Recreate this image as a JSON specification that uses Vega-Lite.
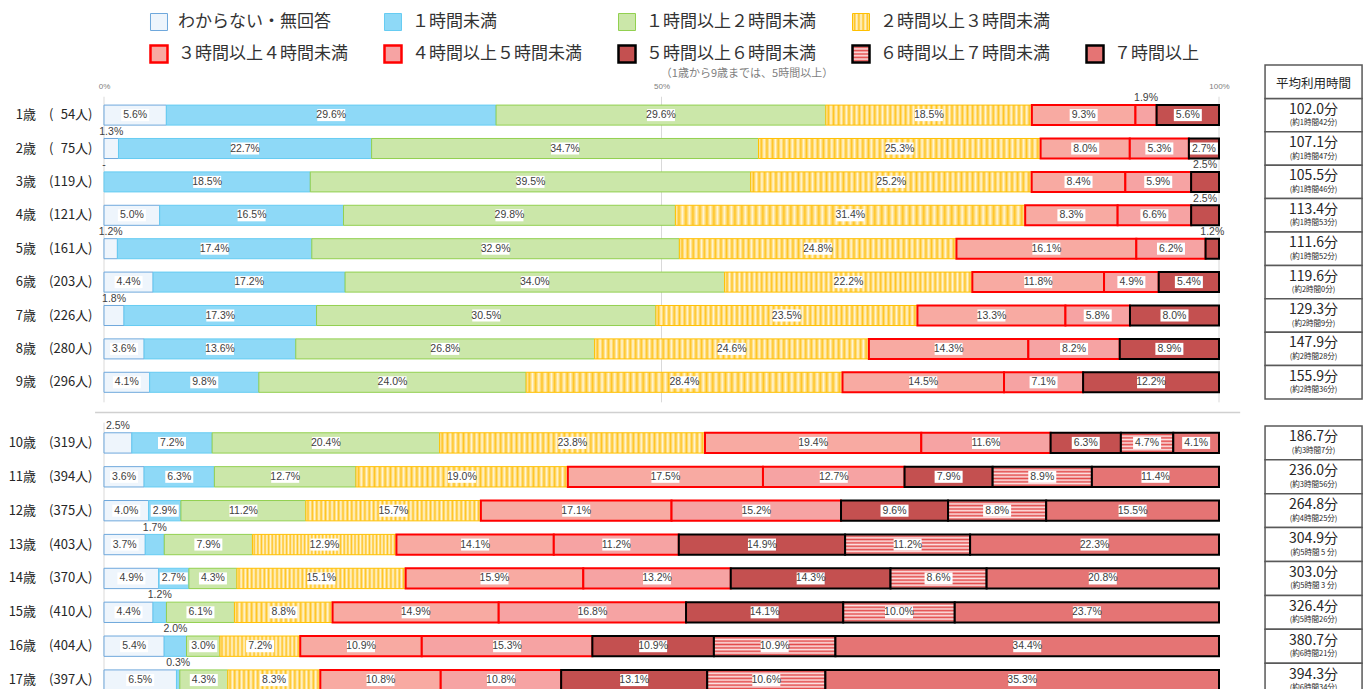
{
  "$schema": "https://vega.github.io/schema/vega-lite/v6.json",
  "usermeta": {"embedOptions": {"actions": false}},
  "background": "white",
  "padding": {"left": 8, "top": 11, "right": 0, "bottom": 0},
  "bounds": "flush",
  "spacing": 11,
  "config": {"view": {"stroke": null}, "font": "Noto Sans CJK JP", "axis": {"labelFont": "Noto Sans CJK JP"}},
  "datasets": {
    "rows": [
      {"a": 1, "n": 54, "c0": 5.6, "c1": 29.6, "c2": 29.6, "c3": 18.5, "c4": 9.3, "c5": 1.9, "c6": 5.6, "avg": 102.0, "hm": "約1時間42分"},
      {"a": 2, "n": 75, "c0": 1.3, "c1": 22.7, "c2": 34.7, "c3": 25.3, "c4": 8.0, "c5": 5.3, "c6": 2.7, "avg": 107.1, "hm": "約1時間47分"},
      {"a": 3, "n": 119, "c0": 0, "c1": 18.5, "c2": 39.5, "c3": 25.2, "c4": 8.4, "c5": 5.9, "c6": 2.5, "avg": 105.5, "hm": "約1時間46分"},
      {"a": 4, "n": 121, "c0": 5.0, "c1": 16.5, "c2": 29.8, "c3": 31.4, "c4": 8.3, "c5": 6.6, "c6": 2.5, "avg": 113.4, "hm": "約1時間53分"},
      {"a": 5, "n": 161, "c0": 1.2, "c1": 17.4, "c2": 32.9, "c3": 24.8, "c4": 16.1, "c5": 6.2, "c6": 1.2, "avg": 111.6, "hm": "約1時間52分"},
      {"a": 6, "n": 203, "c0": 4.4, "c1": 17.2, "c2": 34.0, "c3": 22.2, "c4": 11.8, "c5": 4.9, "c6": 5.4, "avg": 119.6, "hm": "約2時間0分"},
      {"a": 7, "n": 226, "c0": 1.8, "c1": 17.3, "c2": 30.5, "c3": 23.5, "c4": 13.3, "c5": 5.8, "c6": 8.0, "avg": 129.3, "hm": "約2時間9分"},
      {"a": 8, "n": 280, "c0": 3.6, "c1": 13.6, "c2": 26.8, "c3": 24.6, "c4": 14.3, "c5": 8.2, "c6": 8.9, "avg": 147.9, "hm": "約2時間28分"},
      {"a": 9, "n": 296, "c0": 4.1, "c1": 9.8, "c2": 24.0, "c3": 28.4, "c4": 14.5, "c5": 7.1, "c6": 12.2, "avg": 155.9, "hm": "約2時間36分"},
      {"a": 10, "n": 319, "c0": 2.5, "c1": 7.2, "c2": 20.4, "c3": 23.8, "c4": 19.4, "c5": 11.6, "c6": 6.3, "c7": 4.7, "c8": 4.1, "avg": 186.7, "hm": "約3時間7分"},
      {"a": 11, "n": 394, "c0": 3.6, "c1": 6.3, "c2": 12.7, "c3": 19.0, "c4": 17.5, "c5": 12.7, "c6": 7.9, "c7": 8.9, "c8": 11.4, "avg": 236.0, "hm": "約3時間56分"},
      {"a": 12, "n": 375, "c0": 4.0, "c1": 2.9, "c2": 11.2, "c3": 15.7, "c4": 17.1, "c5": 15.2, "c6": 9.6, "c7": 8.8, "c8": 15.5, "avg": 264.8, "hm": "約4時間25分"},
      {"a": 13, "n": 403, "c0": 3.7, "c1": 1.7, "c2": 7.9, "c3": 12.9, "c4": 14.1, "c5": 11.2, "c6": 14.9, "c7": 11.2, "c8": 22.3, "avg": 304.9, "hm": "約5時間 5 分"},
      {"a": 14, "n": 370, "c0": 4.9, "c1": 2.7, "c2": 4.3, "c3": 15.1, "c4": 15.9, "c5": 13.2, "c6": 14.3, "c7": 8.6, "c8": 20.8, "avg": 303.0, "hm": "約5時間 3 分"},
      {"a": 15, "n": 410, "c0": 4.4, "c1": 1.2, "c2": 6.1, "c3": 8.8, "c4": 14.9, "c5": 16.8, "c6": 14.1, "c7": 10.0, "c8": 23.7, "avg": 326.4, "hm": "約5時間26分"},
      {"a": 16, "n": 404, "c0": 5.4, "c1": 2.0, "c2": 3.0, "c3": 7.2, "c4": 10.9, "c5": 15.3, "c6": 10.9, "c7": 10.9, "c8": 34.4, "avg": 380.7, "hm": "約6時間21分"},
      {"a": 17, "n": 397, "c0": 6.5, "c1": 0.3, "c2": 4.3, "c3": 8.3, "c4": 10.8, "c5": 10.8, "c6": 13.1, "c7": 10.6, "c8": 35.3, "avg": 394.3, "hm": "約6時間34分"}
    ],
    "cats": [
      {"k": 0, "name": "わからない・無回答"},
      {"k": 1, "name": "１時間未満"},
      {"k": 2, "name": "１時間以上２時間未満"},
      {"k": 3, "name": "２時間以上３時間未満"},
      {"k": 4, "name": "３時間以上４時間未満"},
      {"k": 5, "name": "４時間以上５時間未満"},
      {"k": 6, "name": "５時間以上６時間未満"},
      {"k": 7, "name": "６時間以上７時間未満"},
      {"k": 8, "name": "７時間以上"}
    ]
  },
  "vconcat": [
    {
      "width": 1046,
      "height": 32,
      "data": {"name": "cats"},
      "transform": [
        {"calculate": "datum.k < 4 ? 1 : 2", "as": "lr"},
        {"calculate": "datum.k < 4 ? datum.k + 1 : datum.k - 3", "as": "lc"}
      ],
      "encoding": {
        "x": {"field": "lc", "type": "ordinal", "axis": null, "scale": {"type": "point", "padding": 0.235, "domain": [1, 2, 3, 4, 5]}},
        "y": {"field": "lr", "type": "ordinal", "axis": null, "scale": {"type": "point", "padding": 0, "domain": [1, 2]}}
      },
      "layer": [
        {
          "mark": {"type": "point", "shape": "square", "size": 289, "filled": true, "opacity": 1},
          "encoding": {
            "fill": {
              "condition": [
                {"test": "datum.k == 3", "value": {"gradient": "linear", "x1": 0, "y1": 0, "x2": 1, "y2": 0, "stops": [{"offset": 0, "color": "#fff6d8"}, {"offset": 0.125, "color": "#ffc423"}, {"offset": 0.25, "color": "#fff6d8"}, {"offset": 0.375, "color": "#ffc423"}, {"offset": 0.5, "color": "#fff6d8"}, {"offset": 0.625, "color": "#ffc423"}, {"offset": 0.75, "color": "#fff6d8"}, {"offset": 0.875, "color": "#ffc423"}, {"offset": 1, "color": "#fff6d8"}]}},
                {"test": "datum.k == 7", "value": {"gradient": "linear", "x1": 0, "y1": 0, "x2": 0, "y2": 1, "stops": [{"offset": 0, "color": "#fde4e4"}, {"offset": 0.1, "color": "#e34c4c"}, {"offset": 0.2, "color": "#fde4e4"}, {"offset": 0.3, "color": "#e34c4c"}, {"offset": 0.4, "color": "#fde4e4"}, {"offset": 0.5, "color": "#e34c4c"}, {"offset": 0.6, "color": "#fde4e4"}, {"offset": 0.7, "color": "#e34c4c"}, {"offset": 0.8, "color": "#fde4e4"}, {"offset": 0.9, "color": "#e34c4c"}, {"offset": 1, "color": "#fde4e4"}]}}
              ],
              "field": "k", "type": "nominal", "legend": null, "scale": {"domain": [0, 1, 2, 3, 4, 5, 6, 7, 8], "range": ["#eef5fc", "#8ed9f7", "#cbe7a9", "#ffe38c", "#f8aaa2", "#f6a3a3", "#c45050", "#eb8888", "#e57474"]}},
            "stroke": {"field": "k", "type": "nominal", "legend": null, "scale": {"domain": [0, 1, 2, 3, 4, 5, 6, 7, 8], "range": ["#6fa8dc", "#66ccf2", "#92d050", "#ffc000", "#ff0000", "#ff0000", "#000000", "#000000", "#000000"]}},
            "strokeWidth": {"condition": {"test": "datum.k >= 4", "value": 2.5}, "value": 1}
          }
        },
        {
          "mark": {"type": "text", "align": "left", "baseline": "middle", "dx": 19, "fontSize": 17, "color": "#333333", "font": "Noto Sans CJK JP"},
          "encoding": {"text": {"field": "name"}}
        }
      ]
    },
    {
      "width": 1258,
      "height": 334,
      "data": {"name": "rows"},
      "transform": [
        {"filter": "datum.a <= 9"},
        {"calculate": "datum.a + '|' + datum.n", "as": "yk"}
      ],
      "encoding": {
        "y": {
          "field": "yk", "type": "nominal", "title": null,
          "scale": {"domain": ["H", "1|54", "2|75", "3|119", "4|121", "5|161", "6|203", "7|226", "8|280", "9|296"], "paddingInner": 0, "paddingOuter": 0},
          "axis": {"ticks": false, "domain": false, "grid": false, "title": null, "labelPadding": 12, "labelFontSize": 13, "labelColor": "#262626", "labelFont": "Noto Sans CJK JP",
            "labelExpr": "datum.value == 'H' ? '' : (length(split(datum.value,'|')[0]) < 2 ? '\u2007' : '') + split(datum.value,'|')[0] + '歳\u3000(' + (length(split(datum.value,'|')[1]) < 3 ? '\u2007' : '') + split(datum.value,'|')[1] + '人)'"}
        }
      },
      "layer": [
        {
          "data": {"values": [{"p": 0}, {"p": 0.5}, {"p": 1}]},
          "mark": {"type": "rule", "color": "#d9d9d9", "strokeWidth": 1},
          "encoding": {
            "x": {"field": "p", "type": "quantitative"},
            "y": {"datum": "1|54", "type": "nominal", "bandPosition": -0.05},
            "y2": {"datum": "9|296", "bandPosition": 1.1}
          }
        },
        {
          "transform": [
            {"fold": ["c0", "c1", "c2", "c3", "c4", "c5", "c6", "c7", "c8"], "as": ["cat", "v"]},
            {"filter": "isValid(datum.v)"},
            {"calculate": "toNumber(substring(datum.cat, 1))", "as": "k"},
            {"stack": "v", "groupby": ["yk"], "sort": [{"field": "k", "order": "ascending"}], "offset": "normalize", "as": ["x0", "x1"]},
            {"calculate": "(datum.x0 + datum.x1) / 2", "as": "mid"},
            {"calculate": "datum.v == 0 ? '-' : format(datum.v, '.1f') + '%'", "as": "lbl"}
          ],
          "layer": [
            {
              "transform": [{"filter": "datum.v > 0"}],
              "mark": {"type": "bar", "height": {"band": 0.6}},
              "encoding": {
                "x": {"field": "x0", "type": "quantitative", "scale": {"domain": [0, 1.12825], "nice": false, "zero": false},
                  "axis": {"orient": "top", "values": [0, 0.5, 1], "format": ".0%", "offset": -27, "labelFontSize": 8, "labelColor": "#808080", "labelFont": "Liberation Sans", "labelFlush": false, "domain": false, "ticks": false, "grid": false, "title": null}},
                "x2": {"field": "x1"},
                "fill": {
                  "condition": [
                    {"test": "datum.k == 7", "value": {"gradient": "linear", "x1": 0, "y1": 0, "x2": 0, "y2": 1, "stops": [{"offset": 0, "color": "#fde4e4"}, {"offset": 0.0833, "color": "#e34c4c"}, {"offset": 0.1667, "color": "#fde4e4"}, {"offset": 0.25, "color": "#e34c4c"}, {"offset": 0.3333, "color": "#fde4e4"}, {"offset": 0.4167, "color": "#e34c4c"}, {"offset": 0.5, "color": "#fde4e4"}, {"offset": 0.5833, "color": "#e34c4c"}, {"offset": 0.6667, "color": "#fde4e4"}, {"offset": 0.75, "color": "#e34c4c"}, {"offset": 0.8333, "color": "#fde4e4"}, {"offset": 0.9167, "color": "#e34c4c"}, {"offset": 1, "color": "#fde4e4"}]}},
                    {"test": "datum.k == 3 && datum.v < 12", "value": {"gradient": "linear", "x1": 0, "y1": 0, "x2": 1, "y2": 0, "stops": [{"offset": 0, "color": "#fff6d8"}, {"offset": 0.025, "color": "#ffc423"}, {"offset": 0.05, "color": "#fff6d8"}, {"offset": 0.075, "color": "#ffc423"}, {"offset": 0.1, "color": "#fff6d8"}, {"offset": 0.125, "color": "#ffc423"}, {"offset": 0.15, "color": "#fff6d8"}, {"offset": 0.175, "color": "#ffc423"}, {"offset": 0.2, "color": "#fff6d8"}, {"offset": 0.225, "color": "#ffc423"}, {"offset": 0.25, "color": "#fff6d8"}, {"offset": 0.275, "color": "#ffc423"}, {"offset": 0.3, "color": "#fff6d8"}, {"offset": 0.325, "color": "#ffc423"}, {"offset": 0.35, "color": "#fff6d8"}, {"offset": 0.375, "color": "#ffc423"}, {"offset": 0.4, "color": "#fff6d8"}, {"offset": 0.425, "color": "#ffc423"}, {"offset": 0.45, "color": "#fff6d8"}, {"offset": 0.475, "color": "#ffc423"}, {"offset": 0.5, "color": "#fff6d8"}, {"offset": 0.525, "color": "#ffc423"}, {"offset": 0.55, "color": "#fff6d8"}, {"offset": 0.575, "color": "#ffc423"}, {"offset": 0.6, "color": "#fff6d8"}, {"offset": 0.625, "color": "#ffc423"}, {"offset": 0.65, "color": "#fff6d8"}, {"offset": 0.675, "color": "#ffc423"}, {"offset": 0.7, "color": "#fff6d8"}, {"offset": 0.725, "color": "#ffc423"}, {"offset": 0.75, "color": "#fff6d8"}, {"offset": 0.775, "color": "#ffc423"}, {"offset": 0.8, "color": "#fff6d8"}, {"offset": 0.825, "color": "#ffc423"}, {"offset": 0.85, "color": "#fff6d8"}, {"offset": 0.875, "color": "#ffc423"}, {"offset": 0.9, "color": "#fff6d8"}, {"offset": 0.925, "color": "#ffc423"}, {"offset": 0.95, "color": "#fff6d8"}, {"offset": 0.975, "color": "#ffc423"}, {"offset": 1, "color": "#fff6d8"}]}},
                    {"test": "datum.k == 3 && datum.v < 20", "value": {"gradient": "linear", "x1": 0, "y1": 0, "x2": 1, "y2": 0, "stops": [{"offset": 0, "color": "#fff6d8"}, {"offset": 0.0125, "color": "#ffc423"}, {"offset": 0.025, "color": "#fff6d8"}, {"offset": 0.0375, "color": "#ffc423"}, {"offset": 0.05, "color": "#fff6d8"}, {"offset": 0.0625, "color": "#ffc423"}, {"offset": 0.075, "color": "#fff6d8"}, {"offset": 0.0875, "color": "#ffc423"}, {"offset": 0.1, "color": "#fff6d8"}, {"offset": 0.1125, "color": "#ffc423"}, {"offset": 0.125, "color": "#fff6d8"}, {"offset": 0.1375, "color": "#ffc423"}, {"offset": 0.15, "color": "#fff6d8"}, {"offset": 0.1625, "color": "#ffc423"}, {"offset": 0.175, "color": "#fff6d8"}, {"offset": 0.1875, "color": "#ffc423"}, {"offset": 0.2, "color": "#fff6d8"}, {"offset": 0.2125, "color": "#ffc423"}, {"offset": 0.225, "color": "#fff6d8"}, {"offset": 0.2375, "color": "#ffc423"}, {"offset": 0.25, "color": "#fff6d8"}, {"offset": 0.2625, "color": "#ffc423"}, {"offset": 0.275, "color": "#fff6d8"}, {"offset": 0.2875, "color": "#ffc423"}, {"offset": 0.3, "color": "#fff6d8"}, {"offset": 0.3125, "color": "#ffc423"}, {"offset": 0.325, "color": "#fff6d8"}, {"offset": 0.3375, "color": "#ffc423"}, {"offset": 0.35, "color": "#fff6d8"}, {"offset": 0.3625, "color": "#ffc423"}, {"offset": 0.375, "color": "#fff6d8"}, {"offset": 0.3875, "color": "#ffc423"}, {"offset": 0.4, "color": "#fff6d8"}, {"offset": 0.4125, "color": "#ffc423"}, {"offset": 0.425, "color": "#fff6d8"}, {"offset": 0.4375, "color": "#ffc423"}, {"offset": 0.45, "color": "#fff6d8"}, {"offset": 0.4625, "color": "#ffc423"}, {"offset": 0.475, "color": "#fff6d8"}, {"offset": 0.4875, "color": "#ffc423"}, {"offset": 0.5, "color": "#fff6d8"}, {"offset": 0.5125, "color": "#ffc423"}, {"offset": 0.525, "color": "#fff6d8"}, {"offset": 0.5375, "color": "#ffc423"}, {"offset": 0.55, "color": "#fff6d8"}, {"offset": 0.5625, "color": "#ffc423"}, {"offset": 0.575, "color": "#fff6d8"}, {"offset": 0.5875, "color": "#ffc423"}, {"offset": 0.6, "color": "#fff6d8"}, {"offset": 0.6125, "color": "#ffc423"}, {"offset": 0.625, "color": "#fff6d8"}, {"offset": 0.6375, "color": "#ffc423"}, {"offset": 0.65, "color": "#fff6d8"}, {"offset": 0.6625, "color": "#ffc423"}, {"offset": 0.675, "color": "#fff6d8"}, {"offset": 0.6875, "color": "#ffc423"}, {"offset": 0.7, "color": "#fff6d8"}, {"offset": 0.7125, "color": "#ffc423"}, {"offset": 0.725, "color": "#fff6d8"}, {"offset": 0.7375, "color": "#ffc423"}, {"offset": 0.75, "color": "#fff6d8"}, {"offset": 0.7625, "color": "#ffc423"}, {"offset": 0.775, "color": "#fff6d8"}, {"offset": 0.7875, "color": "#ffc423"}, {"offset": 0.8, "color": "#fff6d8"}, {"offset": 0.8125, "color": "#ffc423"}, {"offset": 0.825, "color": "#fff6d8"}, {"offset": 0.8375, "color": "#ffc423"}, {"offset": 0.85, "color": "#fff6d8"}, {"offset": 0.8625, "color": "#ffc423"}, {"offset": 0.875, "color": "#fff6d8"}, {"offset": 0.8875, "color": "#ffc423"}, {"offset": 0.9, "color": "#fff6d8"}, {"offset": 0.9125, "color": "#ffc423"}, {"offset": 0.925, "color": "#fff6d8"}, {"offset": 0.9375, "color": "#ffc423"}, {"offset": 0.95, "color": "#fff6d8"}, {"offset": 0.9625, "color": "#ffc423"}, {"offset": 0.975, "color": "#fff6d8"}, {"offset": 0.9875, "color": "#ffc423"}, {"offset": 1, "color": "#fff6d8"}]}},
                    {"test": "datum.k == 3", "value": {"gradient": "linear", "x1": 0, "y1": 0, "x2": 1, "y2": 0, "stops": [{"offset": 0, "color": "#fff6d8"}, {"offset": 0.01, "color": "#ffc423"}, {"offset": 0.02, "color": "#fff6d8"}, {"offset": 0.03, "color": "#ffc423"}, {"offset": 0.04, "color": "#fff6d8"}, {"offset": 0.05, "color": "#ffc423"}, {"offset": 0.06, "color": "#fff6d8"}, {"offset": 0.07, "color": "#ffc423"}, {"offset": 0.08, "color": "#fff6d8"}, {"offset": 0.09, "color": "#ffc423"}, {"offset": 0.1, "color": "#fff6d8"}, {"offset": 0.11, "color": "#ffc423"}, {"offset": 0.12, "color": "#fff6d8"}, {"offset": 0.13, "color": "#ffc423"}, {"offset": 0.14, "color": "#fff6d8"}, {"offset": 0.15, "color": "#ffc423"}, {"offset": 0.16, "color": "#fff6d8"}, {"offset": 0.17, "color": "#ffc423"}, {"offset": 0.18, "color": "#fff6d8"}, {"offset": 0.19, "color": "#ffc423"}, {"offset": 0.2, "color": "#fff6d8"}, {"offset": 0.21, "color": "#ffc423"}, {"offset": 0.22, "color": "#fff6d8"}, {"offset": 0.23, "color": "#ffc423"}, {"offset": 0.24, "color": "#fff6d8"}, {"offset": 0.25, "color": "#ffc423"}, {"offset": 0.26, "color": "#fff6d8"}, {"offset": 0.27, "color": "#ffc423"}, {"offset": 0.28, "color": "#fff6d8"}, {"offset": 0.29, "color": "#ffc423"}, {"offset": 0.3, "color": "#fff6d8"}, {"offset": 0.31, "color": "#ffc423"}, {"offset": 0.32, "color": "#fff6d8"}, {"offset": 0.33, "color": "#ffc423"}, {"offset": 0.34, "color": "#fff6d8"}, {"offset": 0.35, "color": "#ffc423"}, {"offset": 0.36, "color": "#fff6d8"}, {"offset": 0.37, "color": "#ffc423"}, {"offset": 0.38, "color": "#fff6d8"}, {"offset": 0.39, "color": "#ffc423"}, {"offset": 0.4, "color": "#fff6d8"}, {"offset": 0.41, "color": "#ffc423"}, {"offset": 0.42, "color": "#fff6d8"}, {"offset": 0.43, "color": "#ffc423"}, {"offset": 0.44, "color": "#fff6d8"}, {"offset": 0.45, "color": "#ffc423"}, {"offset": 0.46, "color": "#fff6d8"}, {"offset": 0.47, "color": "#ffc423"}, {"offset": 0.48, "color": "#fff6d8"}, {"offset": 0.49, "color": "#ffc423"}, {"offset": 0.5, "color": "#fff6d8"}, {"offset": 0.51, "color": "#ffc423"}, {"offset": 0.52, "color": "#fff6d8"}, {"offset": 0.53, "color": "#ffc423"}, {"offset": 0.54, "color": "#fff6d8"}, {"offset": 0.55, "color": "#ffc423"}, {"offset": 0.56, "color": "#fff6d8"}, {"offset": 0.57, "color": "#ffc423"}, {"offset": 0.58, "color": "#fff6d8"}, {"offset": 0.59, "color": "#ffc423"}, {"offset": 0.6, "color": "#fff6d8"}, {"offset": 0.61, "color": "#ffc423"}, {"offset": 0.62, "color": "#fff6d8"}, {"offset": 0.63, "color": "#ffc423"}, {"offset": 0.64, "color": "#fff6d8"}, {"offset": 0.65, "color": "#ffc423"}, {"offset": 0.66, "color": "#fff6d8"}, {"offset": 0.67, "color": "#ffc423"}, {"offset": 0.68, "color": "#fff6d8"}, {"offset": 0.69, "color": "#ffc423"}, {"offset": 0.7, "color": "#fff6d8"}, {"offset": 0.71, "color": "#ffc423"}, {"offset": 0.72, "color": "#fff6d8"}, {"offset": 0.73, "color": "#ffc423"}, {"offset": 0.74, "color": "#fff6d8"}, {"offset": 0.75, "color": "#ffc423"}, {"offset": 0.76, "color": "#fff6d8"}, {"offset": 0.77, "color": "#ffc423"}, {"offset": 0.78, "color": "#fff6d8"}, {"offset": 0.79, "color": "#ffc423"}, {"offset": 0.8, "color": "#fff6d8"}, {"offset": 0.81, "color": "#ffc423"}, {"offset": 0.82, "color": "#fff6d8"}, {"offset": 0.83, "color": "#ffc423"}, {"offset": 0.84, "color": "#fff6d8"}, {"offset": 0.85, "color": "#ffc423"}, {"offset": 0.86, "color": "#fff6d8"}, {"offset": 0.87, "color": "#ffc423"}, {"offset": 0.88, "color": "#fff6d8"}, {"offset": 0.89, "color": "#ffc423"}, {"offset": 0.9, "color": "#fff6d8"}, {"offset": 0.91, "color": "#ffc423"}, {"offset": 0.92, "color": "#fff6d8"}, {"offset": 0.93, "color": "#ffc423"}, {"offset": 0.94, "color": "#fff6d8"}, {"offset": 0.95, "color": "#ffc423"}, {"offset": 0.96, "color": "#fff6d8"}, {"offset": 0.97, "color": "#ffc423"}, {"offset": 0.98, "color": "#fff6d8"}, {"offset": 0.99, "color": "#ffc423"}, {"offset": 1, "color": "#fff6d8"}]}}
                  ],
                  "field": "k", "type": "nominal", "legend": null, "scale": {"domain": [0, 1, 2, 3, 4, 5, 6, 7, 8], "range": ["#eef5fc", "#8ed9f7", "#cbe7a9", "#ffe38c", "#f8aaa2", "#f6a3a3", "#c45050", "#eb8888", "#e57474"]}},
                "stroke": {"field": "k", "type": "nominal", "legend": null, "scale": {"domain": [0, 1, 2, 3, 4, 5, 6, 7, 8], "range": ["#6fa8dc", "#66ccf2", "#92d050", "#ffc000", "#ff0000", "#ff0000", "#000000", "#000000", "#000000"]}},
                "strokeWidth": {"condition": {"test": "datum.k >= 4", "value": 2}, "value": 1}
              }
            },
            {
              "transform": [{"filter": "datum.v >= 2.6"}],
              "mark": {"type": "point", "shape": "M-1,-0.43H1V0.43H-1Z", "size": 784, "filled": true, "color": "white", "opacity": 1, "strokeWidth": 0},
              "encoding": {"x": {"field": "mid", "type": "quantitative"}}
            },
            {
              "transform": [{"filter": "datum.v >= 2.6"}],
              "mark": {"type": "text", "fontSize": 10.5, "color": "#404040", "font": "Liberation Sans Narrow, Liberation Sans, sans-serif", "baseline": "middle"},
              "encoding": {"x": {"field": "mid", "type": "quantitative"}, "text": {"field": "lbl"}}
            },
            {
              "transform": [{"filter": "datum.v < 2.6"}],
              "mark": {"type": "text", "fontSize": 10.5, "color": "#404040", "font": "Liberation Sans Narrow, Liberation Sans, sans-serif", "baseline": "middle"},
              "encoding": {
                "x": {"field": "mid", "type": "quantitative"},
                "y": {"field": "yk", "type": "nominal", "bandPosition": 0},
                "text": {"field": "lbl"}
              }
            }
          ]
        },
        {
          "mark": {"type": "rect", "fill": "white", "stroke": "#595959", "strokeWidth": 1.5},
          "encoding": {"x": {"datum": 1.0413, "type": "quantitative"}, "x2": {"datum": 1.1283}}
        },
        {
          "transform": [{"calculate": "format(datum.avg, '.1f') + '分'", "as": "al"}],
          "mark": {"type": "text", "fontSize": 14, "dy": -5.5, "color": "#262626", "font": "Noto Sans CJK JP", "baseline": "middle"},
          "encoding": {"x": {"datum": 1.0848, "type": "quantitative"}, "text": {"field": "al"}}
        },
        {
          "transform": [{"calculate": "'(' + datum.hm + ')'", "as": "hl"}],
          "mark": {"type": "text", "fontSize": 7.5, "dy": 8, "color": "#262626", "font": "Noto Sans CJK JP", "baseline": "middle"},
          "encoding": {"x": {"datum": 1.0848, "type": "quantitative"}, "text": {"field": "hl"}}
        },
        {
          "data": {"values": [{"t": "平均利用時間"}]},
          "mark": {"type": "rect", "fill": "white", "stroke": "#595959", "strokeWidth": 1.5},
          "encoding": {"x": {"datum": 1.0413, "type": "quantitative"}, "x2": {"datum": 1.1283}, "y": {"datum": "H", "type": "nominal"}}
        },
        {
          "data": {"values": [{"t": "平均利用時間"}]},
          "mark": {"type": "text", "fontSize": 12.5, "color": "#262626", "font": "Noto Sans CJK JP", "baseline": "middle", "dy": 2},
          "encoding": {"x": {"datum": 1.0848, "type": "quantitative"}, "y": {"datum": "H", "type": "nominal"}, "text": {"field": "t"}}
        },
        {
          "data": {"values": [{"t": "（1歳から9歳までは、5時間以上）"}]},
          "mark": {"type": "text", "fontSize": 11, "color": "#7f7f7f", "font": "Noto Sans CJK JP", "baseline": "middle", "dy": -8},
          "encoding": {"x": {"datum": 0.5767, "type": "quantitative"}, "y": {"datum": "H", "type": "nominal"}, "text": {"field": "t"}}
        }
      ]
    },
    {
      "width": 1258,
      "height": 303,
      "data": {"name": "rows"},
      "transform": [
        {"filter": "datum.a >= 10"},
        {"calculate": "datum.a + '|' + datum.n", "as": "yk"}
      ],
      "encoding": {
        "y": {
          "field": "yk", "type": "nominal", "title": null,
          "scale": {"domain": ["10|319", "11|394", "12|375", "13|403", "14|370", "15|410", "16|404", "17|397"], "paddingInner": 0, "paddingOuter": 0.472},
          "axis": {"ticks": false, "domain": false, "grid": false, "title": null, "labelPadding": 12, "labelFontSize": 13, "labelColor": "#262626", "labelFont": "Noto Sans CJK JP",
            "labelExpr": "(length(split(datum.value,'|')[0]) < 2 ? '\u2007' : '') + split(datum.value,'|')[0] + '歳\u3000(' + (length(split(datum.value,'|')[1]) < 3 ? '\u2007' : '') + split(datum.value,'|')[1] + '人)'"}
        }
      },
      "layer": [
        {
          "data": {"values": [{"p": 0}]},
          "mark": {"type": "rule", "color": "#d9d9d9", "strokeWidth": 1},
          "encoding": {
            "x": {"field": "p", "type": "quantitative"},
            "y": {"datum": "10|319", "type": "nominal", "bandPosition": -0.1},
            "y2": {"datum": "17|397", "bandPosition": 1.2}
          }
        },
        {
          "data": {"values": [{"p": 0}]},
          "mark": {"type": "rule", "color": "#d0d0d0", "strokeWidth": 1.5},
          "encoding": {
            "x": {"datum": -0.008, "type": "quantitative"},
            "x2": {"datum": 1.019},
            "y": {"datum": "10|319", "type": "nominal", "bandPosition": -0.4}
          }
        },
        {
          "transform": [
            {"fold": ["c0", "c1", "c2", "c3", "c4", "c5", "c6", "c7", "c8"], "as": ["cat", "v"]},
            {"filter": "isValid(datum.v)"},
            {"calculate": "toNumber(substring(datum.cat, 1))", "as": "k"},
            {"stack": "v", "groupby": ["yk"], "sort": [{"field": "k", "order": "ascending"}], "offset": "normalize", "as": ["x0", "x1"]},
            {"calculate": "(datum.x0 + datum.x1) / 2", "as": "mid"},
            {"calculate": "datum.v == 0 ? '-' : format(datum.v, '.1f') + '%'", "as": "lbl"}
          ],
          "layer": [
            {
              "transform": [{"filter": "datum.v > 0"}],
              "mark": {"type": "bar", "height": {"band": 0.6}},
              "encoding": {
                "x": {"field": "x0", "type": "quantitative", "scale": {"domain": [0, 1.12825], "nice": false, "zero": false}, "axis": null},
                "x2": {"field": "x1"},
                "fill": {
                  "condition": [
                    {"test": "datum.k == 7", "value": {"gradient": "linear", "x1": 0, "y1": 0, "x2": 0, "y2": 1, "stops": [{"offset": 0, "color": "#fde4e4"}, {"offset": 0.0833, "color": "#e34c4c"}, {"offset": 0.1667, "color": "#fde4e4"}, {"offset": 0.25, "color": "#e34c4c"}, {"offset": 0.3333, "color": "#fde4e4"}, {"offset": 0.4167, "color": "#e34c4c"}, {"offset": 0.5, "color": "#fde4e4"}, {"offset": 0.5833, "color": "#e34c4c"}, {"offset": 0.6667, "color": "#fde4e4"}, {"offset": 0.75, "color": "#e34c4c"}, {"offset": 0.8333, "color": "#fde4e4"}, {"offset": 0.9167, "color": "#e34c4c"}, {"offset": 1, "color": "#fde4e4"}]}},
                    {"test": "datum.k == 3 && datum.v < 12", "value": {"gradient": "linear", "x1": 0, "y1": 0, "x2": 1, "y2": 0, "stops": [{"offset": 0, "color": "#fff6d8"}, {"offset": 0.025, "color": "#ffc423"}, {"offset": 0.05, "color": "#fff6d8"}, {"offset": 0.075, "color": "#ffc423"}, {"offset": 0.1, "color": "#fff6d8"}, {"offset": 0.125, "color": "#ffc423"}, {"offset": 0.15, "color": "#fff6d8"}, {"offset": 0.175, "color": "#ffc423"}, {"offset": 0.2, "color": "#fff6d8"}, {"offset": 0.225, "color": "#ffc423"}, {"offset": 0.25, "color": "#fff6d8"}, {"offset": 0.275, "color": "#ffc423"}, {"offset": 0.3, "color": "#fff6d8"}, {"offset": 0.325, "color": "#ffc423"}, {"offset": 0.35, "color": "#fff6d8"}, {"offset": 0.375, "color": "#ffc423"}, {"offset": 0.4, "color": "#fff6d8"}, {"offset": 0.425, "color": "#ffc423"}, {"offset": 0.45, "color": "#fff6d8"}, {"offset": 0.475, "color": "#ffc423"}, {"offset": 0.5, "color": "#fff6d8"}, {"offset": 0.525, "color": "#ffc423"}, {"offset": 0.55, "color": "#fff6d8"}, {"offset": 0.575, "color": "#ffc423"}, {"offset": 0.6, "color": "#fff6d8"}, {"offset": 0.625, "color": "#ffc423"}, {"offset": 0.65, "color": "#fff6d8"}, {"offset": 0.675, "color": "#ffc423"}, {"offset": 0.7, "color": "#fff6d8"}, {"offset": 0.725, "color": "#ffc423"}, {"offset": 0.75, "color": "#fff6d8"}, {"offset": 0.775, "color": "#ffc423"}, {"offset": 0.8, "color": "#fff6d8"}, {"offset": 0.825, "color": "#ffc423"}, {"offset": 0.85, "color": "#fff6d8"}, {"offset": 0.875, "color": "#ffc423"}, {"offset": 0.9, "color": "#fff6d8"}, {"offset": 0.925, "color": "#ffc423"}, {"offset": 0.95, "color": "#fff6d8"}, {"offset": 0.975, "color": "#ffc423"}, {"offset": 1, "color": "#fff6d8"}]}},
                    {"test": "datum.k == 3 && datum.v < 20", "value": {"gradient": "linear", "x1": 0, "y1": 0, "x2": 1, "y2": 0, "stops": [{"offset": 0, "color": "#fff6d8"}, {"offset": 0.0125, "color": "#ffc423"}, {"offset": 0.025, "color": "#fff6d8"}, {"offset": 0.0375, "color": "#ffc423"}, {"offset": 0.05, "color": "#fff6d8"}, {"offset": 0.0625, "color": "#ffc423"}, {"offset": 0.075, "color": "#fff6d8"}, {"offset": 0.0875, "color": "#ffc423"}, {"offset": 0.1, "color": "#fff6d8"}, {"offset": 0.1125, "color": "#ffc423"}, {"offset": 0.125, "color": "#fff6d8"}, {"offset": 0.1375, "color": "#ffc423"}, {"offset": 0.15, "color": "#fff6d8"}, {"offset": 0.1625, "color": "#ffc423"}, {"offset": 0.175, "color": "#fff6d8"}, {"offset": 0.1875, "color": "#ffc423"}, {"offset": 0.2, "color": "#fff6d8"}, {"offset": 0.2125, "color": "#ffc423"}, {"offset": 0.225, "color": "#fff6d8"}, {"offset": 0.2375, "color": "#ffc423"}, {"offset": 0.25, "color": "#fff6d8"}, {"offset": 0.2625, "color": "#ffc423"}, {"offset": 0.275, "color": "#fff6d8"}, {"offset": 0.2875, "color": "#ffc423"}, {"offset": 0.3, "color": "#fff6d8"}, {"offset": 0.3125, "color": "#ffc423"}, {"offset": 0.325, "color": "#fff6d8"}, {"offset": 0.3375, "color": "#ffc423"}, {"offset": 0.35, "color": "#fff6d8"}, {"offset": 0.3625, "color": "#ffc423"}, {"offset": 0.375, "color": "#fff6d8"}, {"offset": 0.3875, "color": "#ffc423"}, {"offset": 0.4, "color": "#fff6d8"}, {"offset": 0.4125, "color": "#ffc423"}, {"offset": 0.425, "color": "#fff6d8"}, {"offset": 0.4375, "color": "#ffc423"}, {"offset": 0.45, "color": "#fff6d8"}, {"offset": 0.4625, "color": "#ffc423"}, {"offset": 0.475, "color": "#fff6d8"}, {"offset": 0.4875, "color": "#ffc423"}, {"offset": 0.5, "color": "#fff6d8"}, {"offset": 0.5125, "color": "#ffc423"}, {"offset": 0.525, "color": "#fff6d8"}, {"offset": 0.5375, "color": "#ffc423"}, {"offset": 0.55, "color": "#fff6d8"}, {"offset": 0.5625, "color": "#ffc423"}, {"offset": 0.575, "color": "#fff6d8"}, {"offset": 0.5875, "color": "#ffc423"}, {"offset": 0.6, "color": "#fff6d8"}, {"offset": 0.6125, "color": "#ffc423"}, {"offset": 0.625, "color": "#fff6d8"}, {"offset": 0.6375, "color": "#ffc423"}, {"offset": 0.65, "color": "#fff6d8"}, {"offset": 0.6625, "color": "#ffc423"}, {"offset": 0.675, "color": "#fff6d8"}, {"offset": 0.6875, "color": "#ffc423"}, {"offset": 0.7, "color": "#fff6d8"}, {"offset": 0.7125, "color": "#ffc423"}, {"offset": 0.725, "color": "#fff6d8"}, {"offset": 0.7375, "color": "#ffc423"}, {"offset": 0.75, "color": "#fff6d8"}, {"offset": 0.7625, "color": "#ffc423"}, {"offset": 0.775, "color": "#fff6d8"}, {"offset": 0.7875, "color": "#ffc423"}, {"offset": 0.8, "color": "#fff6d8"}, {"offset": 0.8125, "color": "#ffc423"}, {"offset": 0.825, "color": "#fff6d8"}, {"offset": 0.8375, "color": "#ffc423"}, {"offset": 0.85, "color": "#fff6d8"}, {"offset": 0.8625, "color": "#ffc423"}, {"offset": 0.875, "color": "#fff6d8"}, {"offset": 0.8875, "color": "#ffc423"}, {"offset": 0.9, "color": "#fff6d8"}, {"offset": 0.9125, "color": "#ffc423"}, {"offset": 0.925, "color": "#fff6d8"}, {"offset": 0.9375, "color": "#ffc423"}, {"offset": 0.95, "color": "#fff6d8"}, {"offset": 0.9625, "color": "#ffc423"}, {"offset": 0.975, "color": "#fff6d8"}, {"offset": 0.9875, "color": "#ffc423"}, {"offset": 1, "color": "#fff6d8"}]}},
                    {"test": "datum.k == 3", "value": {"gradient": "linear", "x1": 0, "y1": 0, "x2": 1, "y2": 0, "stops": [{"offset": 0, "color": "#fff6d8"}, {"offset": 0.01, "color": "#ffc423"}, {"offset": 0.02, "color": "#fff6d8"}, {"offset": 0.03, "color": "#ffc423"}, {"offset": 0.04, "color": "#fff6d8"}, {"offset": 0.05, "color": "#ffc423"}, {"offset": 0.06, "color": "#fff6d8"}, {"offset": 0.07, "color": "#ffc423"}, {"offset": 0.08, "color": "#fff6d8"}, {"offset": 0.09, "color": "#ffc423"}, {"offset": 0.1, "color": "#fff6d8"}, {"offset": 0.11, "color": "#ffc423"}, {"offset": 0.12, "color": "#fff6d8"}, {"offset": 0.13, "color": "#ffc423"}, {"offset": 0.14, "color": "#fff6d8"}, {"offset": 0.15, "color": "#ffc423"}, {"offset": 0.16, "color": "#fff6d8"}, {"offset": 0.17, "color": "#ffc423"}, {"offset": 0.18, "color": "#fff6d8"}, {"offset": 0.19, "color": "#ffc423"}, {"offset": 0.2, "color": "#fff6d8"}, {"offset": 0.21, "color": "#ffc423"}, {"offset": 0.22, "color": "#fff6d8"}, {"offset": 0.23, "color": "#ffc423"}, {"offset": 0.24, "color": "#fff6d8"}, {"offset": 0.25, "color": "#ffc423"}, {"offset": 0.26, "color": "#fff6d8"}, {"offset": 0.27, "color": "#ffc423"}, {"offset": 0.28, "color": "#fff6d8"}, {"offset": 0.29, "color": "#ffc423"}, {"offset": 0.3, "color": "#fff6d8"}, {"offset": 0.31, "color": "#ffc423"}, {"offset": 0.32, "color": "#fff6d8"}, {"offset": 0.33, "color": "#ffc423"}, {"offset": 0.34, "color": "#fff6d8"}, {"offset": 0.35, "color": "#ffc423"}, {"offset": 0.36, "color": "#fff6d8"}, {"offset": 0.37, "color": "#ffc423"}, {"offset": 0.38, "color": "#fff6d8"}, {"offset": 0.39, "color": "#ffc423"}, {"offset": 0.4, "color": "#fff6d8"}, {"offset": 0.41, "color": "#ffc423"}, {"offset": 0.42, "color": "#fff6d8"}, {"offset": 0.43, "color": "#ffc423"}, {"offset": 0.44, "color": "#fff6d8"}, {"offset": 0.45, "color": "#ffc423"}, {"offset": 0.46, "color": "#fff6d8"}, {"offset": 0.47, "color": "#ffc423"}, {"offset": 0.48, "color": "#fff6d8"}, {"offset": 0.49, "color": "#ffc423"}, {"offset": 0.5, "color": "#fff6d8"}, {"offset": 0.51, "color": "#ffc423"}, {"offset": 0.52, "color": "#fff6d8"}, {"offset": 0.53, "color": "#ffc423"}, {"offset": 0.54, "color": "#fff6d8"}, {"offset": 0.55, "color": "#ffc423"}, {"offset": 0.56, "color": "#fff6d8"}, {"offset": 0.57, "color": "#ffc423"}, {"offset": 0.58, "color": "#fff6d8"}, {"offset": 0.59, "color": "#ffc423"}, {"offset": 0.6, "color": "#fff6d8"}, {"offset": 0.61, "color": "#ffc423"}, {"offset": 0.62, "color": "#fff6d8"}, {"offset": 0.63, "color": "#ffc423"}, {"offset": 0.64, "color": "#fff6d8"}, {"offset": 0.65, "color": "#ffc423"}, {"offset": 0.66, "color": "#fff6d8"}, {"offset": 0.67, "color": "#ffc423"}, {"offset": 0.68, "color": "#fff6d8"}, {"offset": 0.69, "color": "#ffc423"}, {"offset": 0.7, "color": "#fff6d8"}, {"offset": 0.71, "color": "#ffc423"}, {"offset": 0.72, "color": "#fff6d8"}, {"offset": 0.73, "color": "#ffc423"}, {"offset": 0.74, "color": "#fff6d8"}, {"offset": 0.75, "color": "#ffc423"}, {"offset": 0.76, "color": "#fff6d8"}, {"offset": 0.77, "color": "#ffc423"}, {"offset": 0.78, "color": "#fff6d8"}, {"offset": 0.79, "color": "#ffc423"}, {"offset": 0.8, "color": "#fff6d8"}, {"offset": 0.81, "color": "#ffc423"}, {"offset": 0.82, "color": "#fff6d8"}, {"offset": 0.83, "color": "#ffc423"}, {"offset": 0.84, "color": "#fff6d8"}, {"offset": 0.85, "color": "#ffc423"}, {"offset": 0.86, "color": "#fff6d8"}, {"offset": 0.87, "color": "#ffc423"}, {"offset": 0.88, "color": "#fff6d8"}, {"offset": 0.89, "color": "#ffc423"}, {"offset": 0.9, "color": "#fff6d8"}, {"offset": 0.91, "color": "#ffc423"}, {"offset": 0.92, "color": "#fff6d8"}, {"offset": 0.93, "color": "#ffc423"}, {"offset": 0.94, "color": "#fff6d8"}, {"offset": 0.95, "color": "#ffc423"}, {"offset": 0.96, "color": "#fff6d8"}, {"offset": 0.97, "color": "#ffc423"}, {"offset": 0.98, "color": "#fff6d8"}, {"offset": 0.99, "color": "#ffc423"}, {"offset": 1, "color": "#fff6d8"}]}}
                  ],
                  "field": "k", "type": "nominal", "legend": null, "scale": {"domain": [0, 1, 2, 3, 4, 5, 6, 7, 8], "range": ["#eef5fc", "#8ed9f7", "#cbe7a9", "#ffe38c", "#f8aaa2", "#f6a3a3", "#c45050", "#eb8888", "#e57474"]}},
                "stroke": {"field": "k", "type": "nominal", "legend": null, "scale": {"domain": [0, 1, 2, 3, 4, 5, 6, 7, 8], "range": ["#6fa8dc", "#66ccf2", "#92d050", "#ffc000", "#ff0000", "#ff0000", "#000000", "#000000", "#000000"]}},
                "strokeWidth": {"condition": {"test": "datum.k >= 4", "value": 2}, "value": 1}
              }
            },
            {
              "transform": [{"filter": "datum.v >= 2.6"}],
              "mark": {"type": "point", "shape": "M-1,-0.43H1V0.43H-1Z", "size": 784, "filled": true, "color": "white", "opacity": 1, "strokeWidth": 0},
              "encoding": {"x": {"field": "mid", "type": "quantitative"}}
            },
            {
              "transform": [{"filter": "datum.v >= 2.6"}],
              "mark": {"type": "text", "fontSize": 10.5, "color": "#404040", "font": "Liberation Sans Narrow, Liberation Sans, sans-serif", "baseline": "middle"},
              "encoding": {"x": {"field": "mid", "type": "quantitative"}, "text": {"field": "lbl"}}
            },
            {
              "transform": [{"filter": "datum.v < 2.6"}],
              "mark": {"type": "text", "fontSize": 10.5, "color": "#404040", "font": "Liberation Sans Narrow, Liberation Sans, sans-serif", "baseline": "middle"},
              "encoding": {
                "x": {"field": "mid", "type": "quantitative"},
                "y": {"field": "yk", "type": "nominal", "bandPosition": 0},
                "text": {"field": "lbl"}
              }
            }
          ]
        },
        {
          "mark": {"type": "rect", "fill": "white", "stroke": "#595959", "strokeWidth": 1.5},
          "encoding": {"x": {"datum": 1.0413, "type": "quantitative"}, "x2": {"datum": 1.1283}}
        },
        {
          "transform": [{"calculate": "format(datum.avg, '.1f') + '分'", "as": "al"}],
          "mark": {"type": "text", "fontSize": 14, "dy": -5.5, "color": "#262626", "font": "Noto Sans CJK JP", "baseline": "middle"},
          "encoding": {"x": {"datum": 1.0848, "type": "quantitative"}, "text": {"field": "al"}}
        },
        {
          "transform": [{"calculate": "'(' + datum.hm + ')'", "as": "hl"}],
          "mark": {"type": "text", "fontSize": 7.5, "dy": 8, "color": "#262626", "font": "Noto Sans CJK JP", "baseline": "middle"},
          "encoding": {"x": {"datum": 1.0848, "type": "quantitative"}, "text": {"field": "hl"}}
        }
      ]
    }
  ]
}
